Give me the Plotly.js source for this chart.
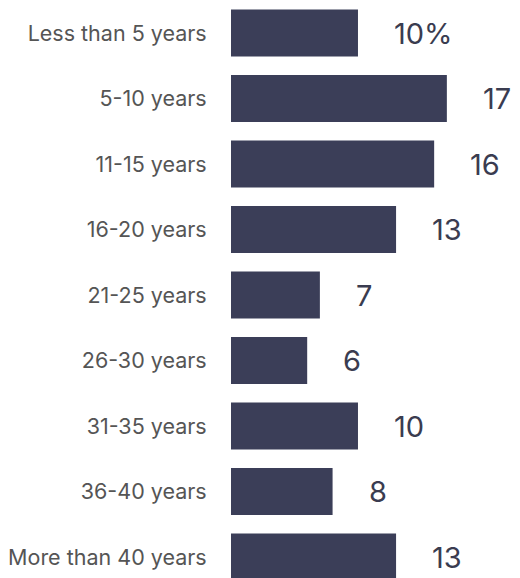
<!DOCTYPE html>
<html>
<head>
<meta charset="utf-8">
<script src="https://cdn.plot.ly/plotly-3.0.1.min.js"></script>
<style>html,body{margin:0;padding:0;background:#fff;}#chart{width:520px;height:578px;}</style>
</head>
<body>
<div id="chart"></div>
<script>
const categories = ["Less than 5 years","5-10 years","11-15 years","16-20 years","21-25 years","26-30 years","31-35 years","36-40 years","More than 40 years"];
const values = [10,17,16,13,7,6,10,8,13];
const valueLabels = ["10%","17","16","13","7","6","10","8","13"];

const trace = {
  type: 'bar',
  orientation: 'h',
  y: categories,
  x: values,
  marker: {color: '#3b3e58'},
  hoverinfo: 'none'
};

const annotations = categories.map((c, i) => ({
  x: values[i], y: c, xref: 'x', yref: 'y',
  text: valueLabels[i], showarrow: false,
  xanchor: 'left', xshift: 34,
  font: {family: 'Inter, sans-serif', size: 29, color: '#3a3c50'}
}));

const layout = {
  width: 520, height: 578,
  margin: {l: 231, r: 0, t: 0, b: 0, pad: 0},
  paper_bgcolor: '#ffffff', plot_bgcolor: '#ffffff',
  bargap: 0.28,
  showlegend: false,
  xaxis: {range: [0, 22.76], visible: false, fixedrange: true},
  yaxis: {
    type: 'category',
    range: [8.32, -0.504],
    showgrid: false, zeroline: false, showline: false,
    ticks: 'outside', ticklen: 19, tickcolor: 'rgba(0,0,0,0)',
    tickfont: {family: 'Inter, sans-serif', size: 21.5, color: '#555555'}
  },
  annotations: annotations
};

Plotly.newPlot('chart', [trace], layout, {staticPlot: true, displayModeBar: false});
</script>
</body>
</html>
